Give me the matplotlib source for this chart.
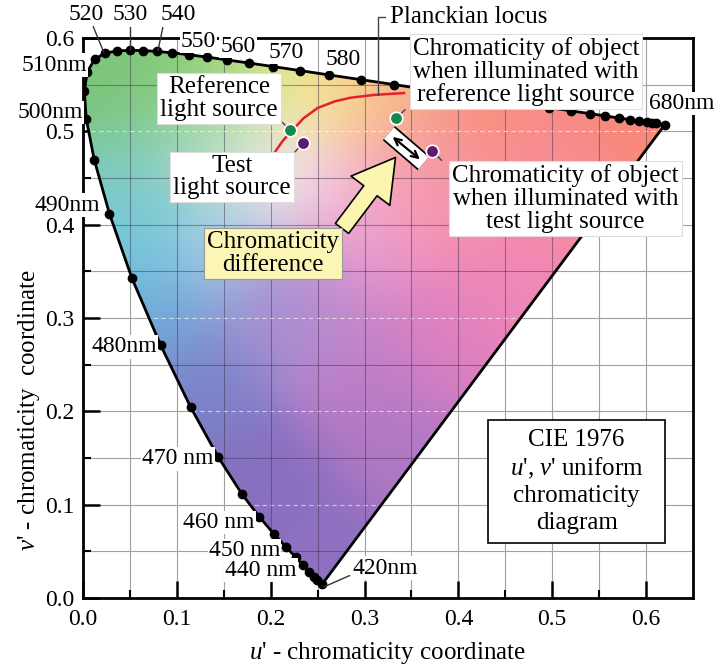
"""CIE 1976 u'v' uniform chromaticity diagram with a colour-rendering example."""

import numpy as np
import matplotlib
matplotlib.use("Agg")
import matplotlib.pyplot as plt
from matplotlib.patches import Polygon, Rectangle, FancyArrowPatch
import matplotlib.patheffects as pe

plt.rcParams["font.family"] = ["Liberation Serif", "DejaVu Serif"]
plt.rcParams["mathtext.fontset"] = "custom"
plt.rcParams["mathtext.rm"] = "Liberation Serif"
plt.rcParams["mathtext.it"] = "Liberation Serif:italic"

# spectral locus, 420-680 nm every 5 nm (u', v')
wavelengths = list(range(420, 681, 5))
locus_u = [0.2550, 0.2496, 0.2461, 0.2411, 0.2347, 0.2266, 0.2161, 0.2033, 0.1877,
           0.1690, 0.1441, 0.1147, 0.0828, 0.0521, 0.0282, 0.0119, 0.0035, 0.0014,
           0.0046, 0.0123, 0.0231, 0.0360, 0.0501, 0.0643, 0.0792, 0.0953, 0.1127,
           0.1319, 0.1531, 0.1766, 0.2026, 0.2312, 0.2623, 0.2960, 0.3315, 0.3681,
           0.4035, 0.4379, 0.4692, 0.4968, 0.5203, 0.5399, 0.5565, 0.5709, 0.5830,
           0.5929, 0.6005, 0.6064, 0.6109, 0.6138, 0.6162, 0.6180, 0.6199]
locus_v = [0.0150, 0.0191, 0.0226, 0.0279, 0.0350, 0.0437, 0.0549, 0.0688, 0.0871,
           0.1119, 0.1510, 0.2044, 0.2708, 0.3427, 0.4117, 0.4698, 0.5131, 0.5432,
           0.5638, 0.5770, 0.5837, 0.5861, 0.5868, 0.5865, 0.5856, 0.5841, 0.5821,
           0.5796, 0.5766, 0.5732, 0.5694, 0.5651, 0.5604, 0.5554, 0.5501, 0.5446,
           0.5393, 0.5342, 0.5296, 0.5254, 0.5219, 0.5190, 0.5165, 0.5143, 0.5125,
           0.5111, 0.5099, 0.5090, 0.5084, 0.5079, 0.5076, 0.5073, 0.5070]
dot_wavelengths = [w for w in wavelengths if w <= 660 or w == 680]

# Planckian locus as drawn
planck_u = [0.200, 0.206, 0.213, 0.222, 0.235, 0.250, 0.268, 0.285, 0.310, 0.342]
planck_v = [0.470, 0.480, 0.490, 0.500, 0.514, 0.525, 0.532, 0.536, 0.539, 0.541]

# light sources and object chromaticities
ref_source = (0.221, 0.501)
test_source = (0.234, 0.487)
obj_ref = (0.334, 0.514)
obj_test = (0.372, 0.479)

# wavelength labels: text, anchor point, alignment
wl_labels = [
    ("520", 0.003, 0.625, "center"), ("530", 0.050, 0.625, "center"),
    ("540", 0.102, 0.625, "center"), ("550", 0.123, 0.596, "center"),
    ("560", 0.165, 0.591, "center"), ("570", 0.217, 0.585, "center"),
    ("580", 0.277, 0.577, "center"),
    ("510nm", 0.004, 0.571, "right"), ("500nm", 0.000, 0.520, "right"),
    ("490nm", 0.018, 0.421, "right"), ("480nm", 0.079, 0.269, "right"),
    ("470 nm", 0.139, 0.149, "right"), ("460 nm", 0.183, 0.081, "right"),
    ("450 nm", 0.210, 0.051, "right"), ("440 nm", 0.228, 0.030, "right"),
    ("420nm", 0.287, 0.032, "left"), ("680nm", 0.603, 0.530, "left"),
]

# soft colour anchors used to shade the inside of the locus
shade_points = [
    (0.02, 0.55, "#7cc67a"), (0.10, 0.565, "#80c878"), (0.16, 0.565, "#a8d884"),
    (0.22, 0.56, "#f4f090"), (0.27, 0.55, "#f8e090"), (0.32, 0.535, "#f8b488"),
    (0.42, 0.52, "#f89078"), (0.58, 0.51, "#f88a78"), (0.21, 0.465, "#f8f0f4"),
    (0.14, 0.48, "#b0dcc4"), (0.05, 0.45, "#80ccc0"), (0.05, 0.38, "#72c8e0"),
    (0.15, 0.38, "#a8cce8"), (0.08, 0.30, "#70a8d8"), (0.12, 0.22, "#7c80c8"),
    (0.20, 0.12, "#8870c0"), (0.25, 0.04, "#9070c0"), (0.32, 0.18, "#b078c4"),
    (0.38, 0.28, "#e080c0"), (0.45, 0.35, "#f088b8"), (0.40, 0.43, "#f890a8"),
    (0.27, 0.43, "#f2bcd8"), (0.25, 0.32, "#c08ed0"), (0.50, 0.45, "#f88c98"),
    (0.31, 0.38, "#ec96cc"), (0.30, 0.25, "#c080c8"), (0.35, 0.46, "#f8a0b0"),
    (0.20, 0.30, "#9c8cd0"),
]

fig = plt.figure(figsize=(7.2, 6.66), dpi=100)
ax = fig.add_axes([83 / 720, 68 / 666, 610 / 720, 560 / 666])
ax.set_xlim(0, 0.65)
ax.set_ylim(0, 0.6)

# --- shaded chromaticity region -------------------------------------------
gu, gv = np.meshgrid(np.linspace(0, 0.65, 520), np.linspace(0, 0.6, 480))
acc = np.zeros(gu.shape + (3,))
wsum = np.zeros(gu.shape)
for pu, pv, col in shade_points:
    w = np.exp(-((gu - pu) ** 2 + (gv - pv) ** 2) / (2 * 0.045 ** 2))
    acc += w[..., None] * np.array(matplotlib.colors.to_rgb(col))
    wsum += w
rgb = acc / wsum[..., None]

outline = Polygon(np.column_stack([locus_u, locus_v]), closed=True,
                  transform=ax.transData, fc="none", ec="none")
ax.add_patch(outline)
im = ax.imshow(rgb, extent=(0, 0.65, 0, 0.6), origin="lower", aspect="auto",
               interpolation="bilinear", zorder=1)
im.set_clip_path(outline)

# grid: grey outside, darker / dashed on top of the colour
ax.set_axisbelow(True)
ax.grid(which="both", color="#a0a0a0", lw=0.8)
for g in np.arange(0.05, 0.61, 0.05):
    dashed = round(g, 2) in (0.1, 0.2, 0.3, 0.5)
    hl = ax.axhline(g, color="white" if dashed else "#3a2a4a",
                    alpha=0.6 if dashed else 0.45, lw=0.8,
                    ls=(0, (4, 3)) if dashed else "-", zorder=1.5)
    hl.set_clip_path(outline)
    vl = ax.axvline(g, color="#3a2a4a", alpha=0.45, lw=0.8, zorder=1.5)
    vl.set_clip_path(outline)

# --- locus and purple line ------------------------------------------------
ax.plot(locus_u + [locus_u[0]], locus_v + [locus_v[0]], color="black", lw=2, zorder=3)
dot_idx = [wavelengths.index(w) for w in dot_wavelengths]
ax.plot([locus_u[i] for i in dot_idx], [locus_v[i] for i in dot_idx], "o",
        color="black", ms=6, zorder=3.2)

ax.plot(planck_u, planck_v, color="#e3202c", lw=1.8, zorder=2.5)

# --- axes styling -------------------------------------------------------------
ax.set_xticks(np.arange(0, 0.61, 0.1))
ax.set_xticklabels([f"{t:.1f}" for t in np.arange(0, 0.61, 0.1)])
ax.set_xticks(np.arange(0.05, 0.65, 0.1), minor=True)
ax.set_yticks(np.arange(0, 0.61, 0.1))
ax.set_yticklabels([f"{t:.1f}" for t in np.arange(0, 0.61, 0.1)])
ax.set_yticks(np.arange(0.05, 0.6, 0.1), minor=True)
ax.tick_params(which="major", direction="in", length=12, width=1.8, labelsize=17)
ax.tick_params(which="minor", direction="in", length=6, width=1.5)
ax.tick_params(axis="x", pad=8)
ax.tick_params(axis="y", pad=6)
for s in ax.spines.values():
    s.set_linewidth(2)

ax.set_xlabel("$u$' - chromaticity coordinate", fontsize=18)
ax.set_ylabel("$v$' - chromaticity  coordinate", fontsize=18)
ax.xaxis.set_label_coords(0.5, -0.075)
ax.yaxis.set_label_coords(-0.068, 0.336)

# --- wavelength labels ----------------------------------------------------------
for txt, tu, tv, ha in wl_labels:
    ax.text(tu, tv, txt, ha=ha, va="center", fontsize=17, zorder=4,
            bbox=dict(boxstyle="square,pad=0.05", fc="white", ec="none"))
leader = dict(color="#333333", lw=1.0, zorder=4, clip_on=False)
ax.plot([0.011, 0.022], [0.612, 0.585], **leader)
ax.plot([0.050, 0.050], [0.612, 0.588], **leader)
ax.plot([0.085, 0.080], [0.611, 0.587], **leader)
ax.plot([0.257, 0.284], [0.012, 0.024], **leader)

# --- light sources / objects --------------------------------------------------
for pt, col in [(ref_source, "#138a4c"), (test_source, "#5e1a6e"),
                (obj_ref, "#138a4c"), (obj_test, "#5e1a6e")]:
    ax.plot(*pt, "o", color=col, mec="white", mew=1.2, ms=9, zorder=7)

thin = dict(color="#444444", lw=1.0, zorder=6)
ax.plot([0.212, ref_source[0]], [0.510, ref_source[1]], **thin)
ax.plot([0.226, test_source[0]], [0.478, test_source[1]], **thin)
ax.plot([0.343, obj_ref[0]], [0.523, obj_ref[1]], **thin)
ax.plot([obj_test[0], 0.382], [obj_test[1], 0.469], **thin)

# double arrow in its white frame
ax.plot([0.326, 0.363], [0.498, 0.466], color="white", lw=11, solid_capstyle="butt",
        zorder=6, path_effects=[pe.Stroke(linewidth=13.5, foreground="black"), pe.Normal()])
ax.add_patch(FancyArrowPatch((0.330, 0.494), (0.359, 0.470), arrowstyle="<->",
                             mutation_scale=12, lw=1.6, color="black", zorder=7,
                             shrinkA=0, shrinkB=0))

# big yellow arrow
ax.add_patch(FancyArrowPatch((0.276, 0.396), (0.333, 0.472),
                             arrowstyle="simple,head_length=1.5,head_width=1.75,tail_width=0.6",
                             mutation_scale=20, fc="#fbf5b0", ec="black", lw=1.2,
                             zorder=6, shrinkA=0, shrinkB=0))

# --- annotation boxes --------------------------------------------------------------
box = dict(boxstyle="square,pad=0.12", fc="white", ec="#dddddd", lw=0.8)
ax.text(0.145, 0.535, "Reference\nlight source", ha="center", va="center",
        fontsize=18, linespacing=1.05, bbox=box, zorder=8)
ax.text(0.159, 0.451, "Test\nlight source", ha="center", va="center",
        fontsize=18, linespacing=1.05, bbox=box, zorder=8)
ax.text(0.202, 0.369, "Chromaticity\ndifference", ha="center", va="center",
        fontsize=18, linespacing=1.05, zorder=8,
        bbox=dict(boxstyle="square,pad=0.12", fc="#fbf6b6", ec="#999999", lw=0.8))
ax.text(0.472, 0.564, "Chromaticity of object\nwhen illuminated with\nreference light source",
        ha="center", va="center", fontsize=18, linespacing=1.05, bbox=box, zorder=8,
        clip_on=False)
ax.text(0.514, 0.428, "Chromaticity of object\nwhen illuminated with\ntest light source",
        ha="center", va="center", fontsize=18, linespacing=1.05, bbox=box, zorder=8)

ax.text(0.327, 0.623, "Planckian locus", ha="left", va="center", fontsize=18,
        zorder=8, clip_on=False)
ax.plot([0.322, 0.314, 0.314], [0.623, 0.623, 0.539], color="#444444", lw=1.0,
        zorder=5, clip_on=False)

ax.add_patch(Rectangle((0.432, 0.059), 0.188, 0.132, fc="white", ec="black",
                       lw=1.2, zorder=8))
ax.text(0.526, 0.125, "CIE 1976\n$u$', $v$' uniform\nchromaticity\ndiagram",
        ha="center", va="center", fontsize=18, linespacing=1.25, zorder=9)

fig.savefig("out.png", dpi=100)
